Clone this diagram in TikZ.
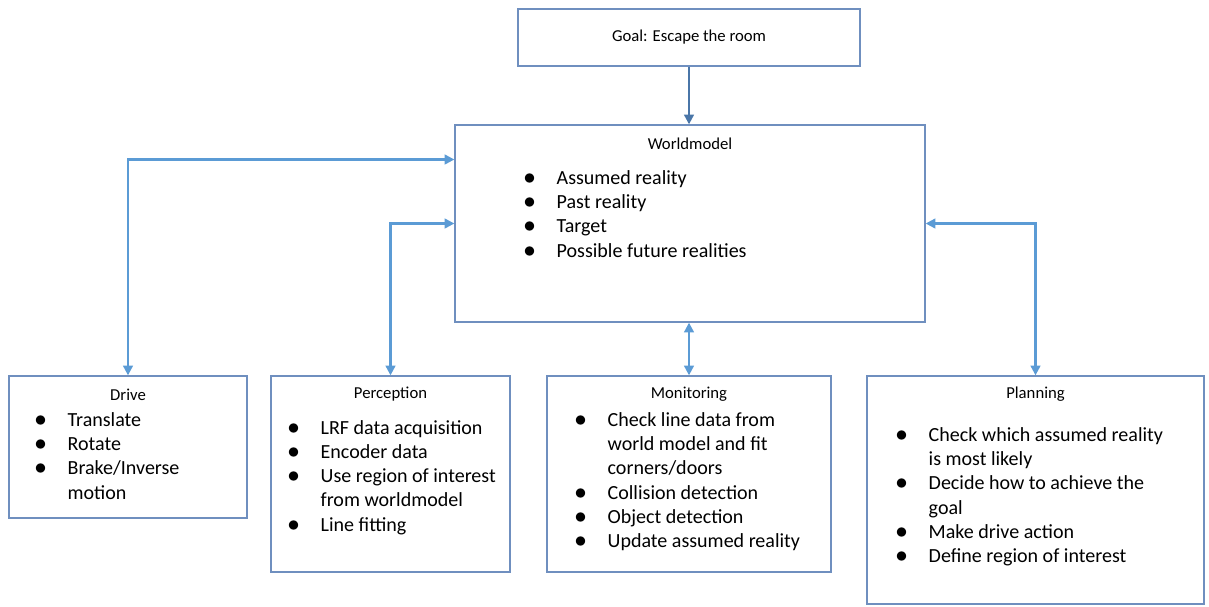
\documentclass[tikz,border=0pt]{standalone}
\usepackage{fontspec}
\usepackage{graphicx}
\setmainfont{Carlito}
\usetikzlibrary{arrows.meta}
\definecolor{boxblue}{HTML}{6F8FBF}
\definecolor{linkblue}{HTML}{5B9BD5}
\definecolor{goalblue}{HTML}{4A76A8}
\tikzset{
	box/.style={rectangle,draw=boxblue,line width=0.8pt,inner sep=0pt},
	boxtitle/.style={font=\fontsize{9.5}{11}\selectfont,inner sep=0pt},
	itemlist/.style={anchor=base west,inner sep=0pt,font=\fontsize{11.4}{13.8}\selectfont},
	link/.style={draw=linkblue,line width=1.2pt,{Triangle[length=5.5pt,width=5.5pt]}-{Triangle[length=5.5pt,width=5.5pt]}},
	goallink/.style={draw=goalblue,line width=1.2pt,-{Triangle[length=5.5pt,width=5.5pt]}}
}
\newcommand{\bl}{\scalebox{1.25}{$\bullet$}}

\begin{document}
\begin{tikzpicture}[x=0.02cm,y=-0.02cm]
	\useasboundingbox (0,0) rectangle (1209,606);
	% boxes
	\node [box,boxtitle,minimum width=6.84cm,minimum height=1.14cm] (goal) at (689,37.5) {Goal: Escape the room};
	\node [box,minimum width=9.4cm,minimum height=3.94cm] (world) at (690,223.5) {};
	\node [box,minimum width=4.76cm,minimum height=2.84cm] (drive) at (128,447) {};
	\node [box,minimum width=4.78cm,minimum height=3.92cm] (perc) at (390.5,474) {};
	\node [box,minimum width=5.68cm,minimum height=3.92cm] (mon) at (689,474) {};
	\node [box,minimum width=6.74cm,minimum height=4.56cm] (plan) at (1035.5,490) {};
	% titles
	\node [boxtitle] (worldtitle) at ([shift={(0,19)}]world.north) {Worldmodel};
	\node [boxtitle] (drivetitle) at ([shift={(0,19)}]drive.north) {Drive};
	\node [boxtitle] (perctitle) at ([shift={(0,19)}]perc.north) {Perception};
	\node [boxtitle] (montitle) at ([shift={(0,19)}]mon.north) {Monitoring};
	\node [boxtitle] (plantitle) at ([shift={(0,19)}]plan.north) {Planning};
	% lists
	\node [itemlist] (worldlist) at ([shift={(69,60)}]world.north west) {\begin{tabular}[t]{@{}p{0.66cm}@{}l@{}}
		\bl & Assumed reality\\
		\bl & Past reality\\
		\bl & Target\\
		\bl & Possible future realities
	\end{tabular}};
	\node [itemlist] (drivelist) at ([shift={(26,51)}]drive.north west) {\begin{tabular}[t]{@{}p{0.66cm}@{}l@{}}
		\bl & Translate\\
		\bl & Rotate\\
		\bl & Brake/Inverse\\
		& motion
	\end{tabular}};
	\node [itemlist] (perclist) at ([shift={(17,58.7)}]perc.north west) {\begin{tabular}[t]{@{}p{0.66cm}@{}l@{}}
		\bl & LRF data acquisition\\
		\bl & Encoder data\\
		\bl & Use region of interest\\
		& from worldmodel\\
		\bl & Line fitting
	\end{tabular}};
	\node [itemlist] (monlist) at ([shift={(28,51)}]mon.north west) {\begin{tabular}[t]{@{}p{0.66cm}@{}l@{}}
		\bl & Check line data from\\
		& world model and fit\\
		& corners/doors\\
		\bl & Collision detection\\
		\bl & Object detection\\
		\bl & Update assumed reality
	\end{tabular}};
	\node [itemlist] (planlist) at ([shift={(29,66)}]plan.north west) {\begin{tabular}[t]{@{}p{0.66cm}@{}l@{}}
		\bl & Check which assumed reality\\
		& is most likely\\
		\bl & Decide how to achieve the\\
		& goal\\
		\bl & Make drive action\\
		\bl & Define region of interest
	\end{tabular}};
	% connectors
	\coordinate (wdrive) at ([shift={(0,-64)}]world.west);
	\draw [goallink] (goal.south) -- (goal.south |- world.north);
	\draw [link] (wdrive) -| (drive.north);
	\draw [link] (world.west) -| (perc.north);
	\draw [link] (world.south -| mon.north) -- (mon.north);
	\draw [link] (world.east) -| (plan.north);
\end{tikzpicture}
\end{document}
